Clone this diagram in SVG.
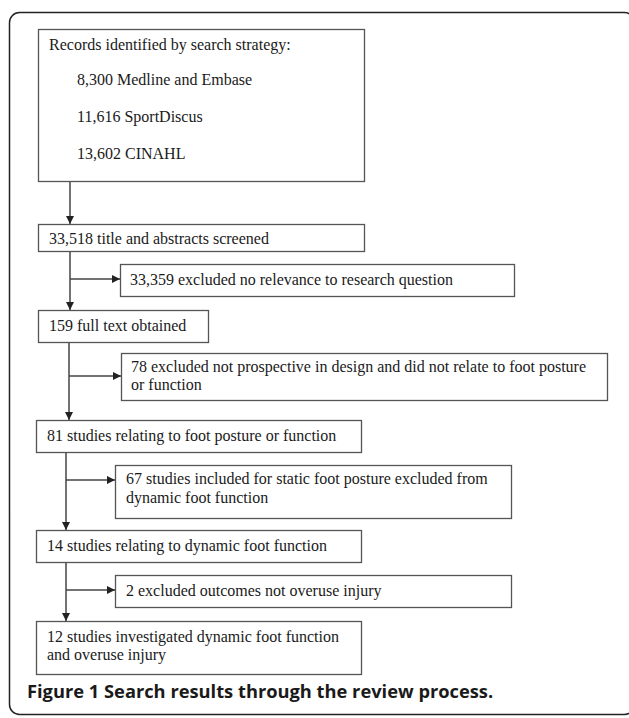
<svg xmlns="http://www.w3.org/2000/svg" width="629" height="718" viewBox="0 0 629 718">
<style>
.box{fill:#fff;stroke:#555;stroke-width:1.3}
.t{font-family:"Liberation Serif","Times New Roman",serif;font-size:16px;fill:#1a1a1a}
.c{stroke:#444;stroke-width:1.5;fill:none}
.cap{font-family:"Open Sans","Noto Sans",sans-serif;font-size:18.3px;font-weight:700;fill:#1a1a1a}
</style>
<defs>
<marker id="ah" viewBox="0 0 10 10" refX="10" refY="5" markerWidth="8" markerHeight="8" markerUnits="userSpaceOnUse" orient="auto">
<path d="M0,0 L10,5 L0,10 z" fill="#222"/>
</marker>
</defs>
<rect x="9.5" y="12.5" width="625" height="702" rx="10" fill="none" stroke="#222" stroke-width="1.5"/>
<g id="connectors">
<line class="c" x1="70" y1="181" x2="70" y2="224" marker-end="url(#ah)"/>
<line class="c" x1="70" y1="251" x2="70" y2="310" marker-end="url(#ah)"/>
<line class="c" x1="70" y1="279" x2="120" y2="279" marker-end="url(#ah)"/>
<line class="c" x1="69" y1="342" x2="69" y2="420" marker-end="url(#ah)"/>
<line class="c" x1="69" y1="376" x2="121" y2="376" marker-end="url(#ah)"/>
<line class="c" x1="66" y1="452" x2="66" y2="530" marker-end="url(#ah)"/>
<line class="c" x1="66" y1="480" x2="115" y2="480" marker-end="url(#ah)"/>
<line class="c" x1="66" y1="562" x2="66" y2="621" marker-end="url(#ah)"/>
<line class="c" x1="66" y1="590" x2="115" y2="590" marker-end="url(#ah)"/>
</g>
<g id="n1">
<rect class="box" x="38.5" y="29.5" width="326" height="152"/>
<text class="t" x="49" y="50">Records identified by search strategy:</text>
<text class="t" x="77" y="85">8,300 Medline and Embase</text>
<text class="t" x="77" y="122">11,616 SportDiscus</text>
<text class="t" x="77" y="159">13,602 CINAHL</text>
</g>
<g id="n2">
<rect class="box" x="38.5" y="224.5" width="326" height="27"/>
<text class="t" x="49" y="244">33,518 title and abstracts screened</text>
</g>
<g id="n3">
<rect class="box" x="120.5" y="264.5" width="394" height="32"/>
<text class="t" x="130" y="285">33,359 excluded no relevance to research question</text>
</g>
<g id="n4">
<rect class="box" x="38.5" y="310.5" width="170" height="32"/>
<text class="t" x="49" y="331">159 full text obtained</text>
</g>
<g id="n5">
<rect class="box" x="121.5" y="353.5" width="486" height="47"/>
<text class="t" x="131" y="372">78 excluded not prospective in design and did not relate to foot posture</text>
<text class="t" x="131" y="390">or function</text>
</g>
<g id="n6">
<rect class="box" x="36.5" y="420.5" width="325" height="32"/>
<text class="t" x="47" y="441">81 studies relating to foot posture or function</text>
</g>
<g id="n7">
<rect class="box" x="115.5" y="465.5" width="396" height="53"/>
<text class="t" x="126" y="484">67 studies included for static foot posture excluded from</text>
<text class="t" x="126" y="503">dynamic foot function</text>
</g>
<g id="n8">
<rect class="box" x="36.5" y="530.5" width="325" height="32"/>
<text class="t" x="47" y="551">14 studies relating to dynamic foot function</text>
</g>
<g id="n9">
<rect class="box" x="115.5" y="575.5" width="396" height="32"/>
<text class="t" x="126" y="596">2 excluded outcomes not overuse injury</text>
</g>
<g id="n10">
<rect class="box" x="36.5" y="621.5" width="325" height="53"/>
<text class="t" x="47" y="642">12 studies investigated dynamic foot function</text>
<text class="t" x="47" y="660">and overuse injury</text>
</g>
<text class="cap" x="27" y="698">Figure 1 Search results through the review process.</text>
</svg>
